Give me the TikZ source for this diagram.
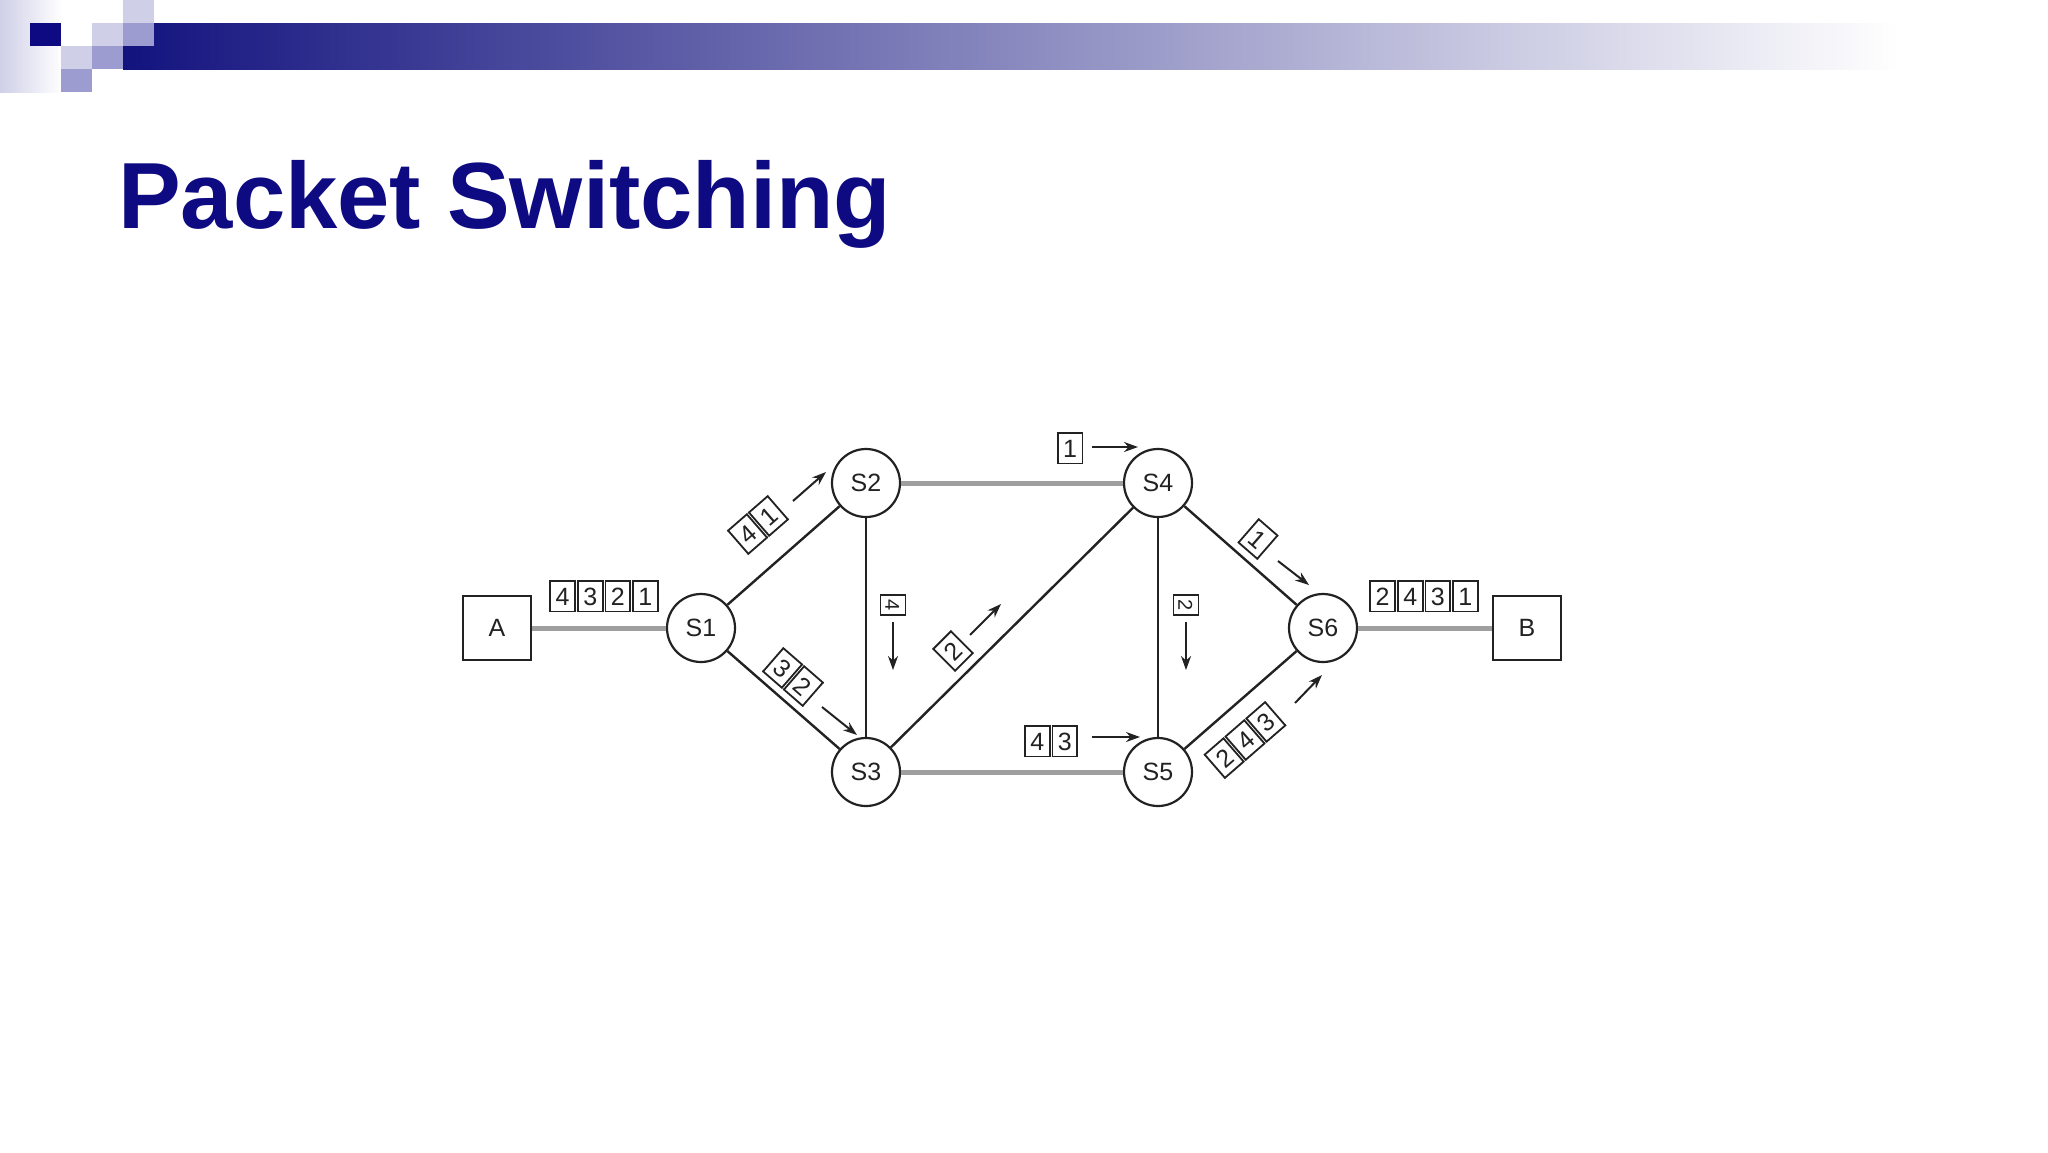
\documentclass[tikz,border=0pt]{standalone}
\usepackage{fontspec}
\setmainfont{Liberation Sans}
\usetikzlibrary{arrows.meta}
\definecolor{navy}{HTML}{0E0A82}
\definecolor{barnavy}{HTML}{13137F}
\definecolor{lav}{HTML}{CFCFE8}
\definecolor{lavm}{HTML}{9C9CD0}
\definecolor{ink}{HTML}{222222}
\setlength{\fboxsep}{2pt}
\setlength{\fboxrule}{1.8pt}
\newcommand\pk[1]{\fbox{\makebox[19pt]{\rule[-3pt]{0pt}{25pt}#1}}\hspace{1pt}}
\tikzset{
  sw/.style={circle,draw=ink,line width=2.2pt,minimum size=68pt,inner sep=0pt,font=\fontsize{25}{25}\selectfont,fill=white,text=ink},
  host/.style={draw=ink,line width=2.2pt,minimum width=68pt,minimum height=64pt,font=\fontsize{25}{25}\selectfont,text=ink,fill=white},
  link/.style={line width=2.4pt,draw=ink},
  glink/.style={line width=5pt,draw=gray!75},
  pkts/.style={inner sep=0pt,font=\fontsize{25}{25}\selectfont,text=ink},
  mv/.style={line width=2pt,draw=ink,-{Stealth[length=14pt,width=10pt]}},
}
\begin{document}
\begin{tikzpicture}[x=1pt,y=-1pt]
\useasboundingbox (0,0) rectangle (2048,1152);
\fill[white] (0,0) rectangle (2048,1152);
% header
\shade[left color=lav,right color=white] (0,0) rectangle (62,92);
\shade[left color=barnavy,right color=white] (123,23) rectangle (1900,69);
\fill[navy] (30,23) rectangle (61,46);
\fill[lav] (123,0) rectangle (154,23);
\fill[lav] (92,23) rectangle (123,46);
\fill[lavm] (123,23) rectangle (154,46);
\fill[lav] (61,46) rectangle (92,69);
\fill[lavm] (92,46) rectangle (123,69);
\fill[lavm] (61,69) rectangle (92,92);
\node[anchor=base west,inner sep=0pt,text=navy,font=\bfseries\fontsize{94}{94}\selectfont] (title) at (118,228) {Packet Switching};
% nodes
\node[host] (A) at (497,628) {A};
\node[host] (B) at (1527,628) {B};
\node[sw] (S1) at (701,628) {S1};
\node[sw] (S2) at (866,483) {S2};
\node[sw] (S3) at (866,772) {S3};
\node[sw] (S4) at (1158,483) {S4};
\node[sw] (S5) at (1158,772) {S5};
\node[sw] (S6) at (1323,628) {S6};
\draw[glink] (A) -- (S1);
\draw[glink] (S6) -- (B);
\draw[glink] (S2) -- (S4);
\draw[glink] (S3) -- (S5);
\draw[link] (S1) -- (S2);
\draw[link] (S1) -- (S3);
\draw[link] (S2) -- (S3);
\draw[link] (S3) -- (S4);
\draw[link] (S4) -- (S5);
\draw[link] (S4) -- (S6);
\draw[link] (S5) -- (S6);
% packets
\node[pkts] (pA) at (604,596) {\pk{4}\pk{3}\pk{2}\pk{1}};
\node[pkts] (pB) at (1424,596) {\pk{2}\pk{4}\pk{3}\pk{1}};
\node[pkts] (p4a) at (1070,448) {\pk{1}};
\coordinate (a4s) at (1092,447); \coordinate (a4e) at (1138,447);
\draw[mv] (a4s) -- (a4e);
\node[pkts] (p5a) at (1051,741) {\pk{4}\pk{3}};
\coordinate (a5s) at (1092,737); \coordinate (a5e) at (1140,737);
\draw[mv] (a5s) -- (a5e);
\node[pkts,rotate=-90,scale=0.8] (p23) at (893,605) {\pk{4}};
\coordinate (a23s) at (893,622); \coordinate (a23e) at (893,670);
\draw[mv] (a23s) -- (a23e);
\node[pkts,rotate=-90,scale=0.8] (p45) at (1186,605) {\pk{2}};
\coordinate (a45s) at (1186,622); \coordinate (a45e) at (1186,670);
\draw[mv] (a45s) -- (a45e);
\node[pkts,rotate=41] (p12) at (758,525) {\pk{4}\pk{1}};
\coordinate (a12s) at (793,501); \coordinate (a12e) at (826,472);
\draw[mv] (a12s) -- (a12e);
\node[pkts,rotate=-41] (p13) at (793,677) {\pk{3}\pk{2}};
\coordinate (a13s) at (822,707); \coordinate (a13e) at (857,735);
\draw[mv] (a13s) -- (a13e);
\node[pkts,rotate=45] (p34) at (953,651) {\pk{2}};
\coordinate (a34s) at (970,635); \coordinate (a34e) at (1001,604);
\draw[mv] (a34s) -- (a34e);
\node[pkts,rotate=-41] (p46) at (1258,539) {\pk{1}};
\coordinate (a46s) at (1278,561); \coordinate (a46e) at (1309,585);
\draw[mv] (a46s) -- (a46e);
\node[pkts,rotate=41] (p56) at (1245,740) {\pk{2}\pk{4}\pk{3}};
\coordinate (a56s) at (1295,703); \coordinate (a56e) at (1322,675);
\draw[mv] (a56s) -- (a56e);
\end{tikzpicture}
\end{document}
